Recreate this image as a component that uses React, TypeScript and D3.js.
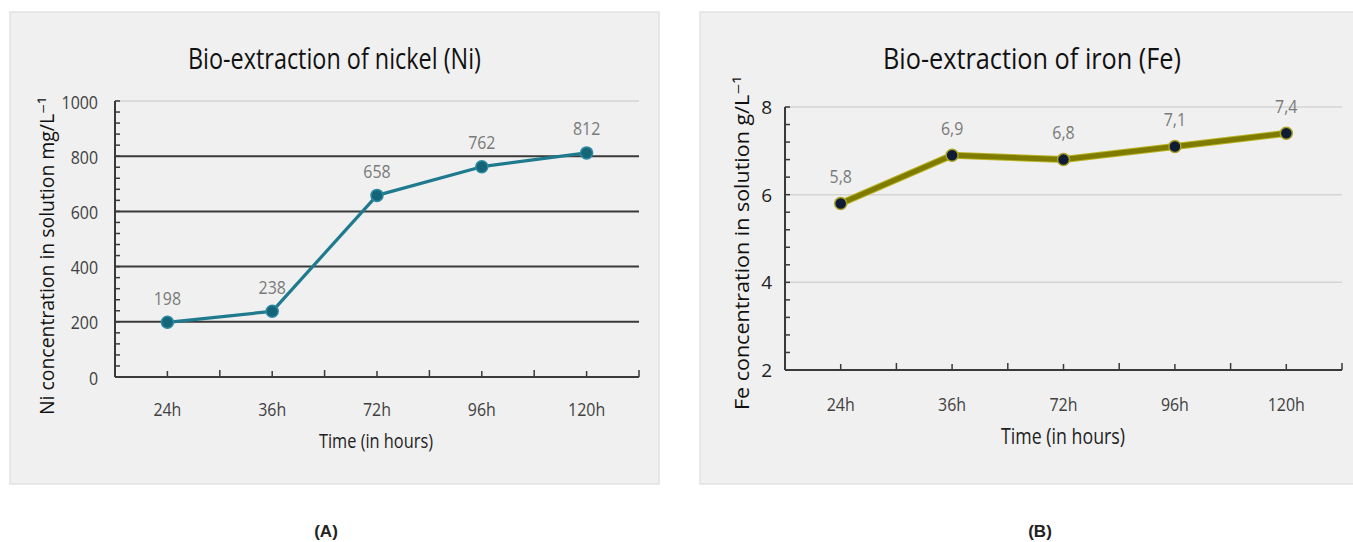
import React from "react";
import * as d3 from "d3";

const categories = ["24h", "36h", "72h", "96h", "120h"];
const nickelValues = [198, 238, 658, 762, 812];
const ironValues = [5.8, 6.9, 6.8, 7.1, 7.4];
const nickelTicks = [0, 200, 400, 600, 800, 1000];
const ironTicks = [2, 4, 6, 8];
const ironLabels = ["5,8", "6,9", "6,8", "7,1", "7,4"];

const FONT = "'Open Sans', 'DejaVu Sans', sans-serif";

type TProps = {
  x: number;
  y: number;
  size: number;
  fill: string;
  anchor?: "start" | "middle" | "end";
  sx?: number;
  len?: number;
  rotate?: number;
  weight?: string;
  family?: string;
  children: React.ReactNode;
};

function T({ x, y, size, fill, anchor = "middle", sx = 0.84, len, rotate = 0, weight, family = FONT, children }: TProps) {
  const tf = len
    ? `translate(${x},${y}) rotate(${rotate})`
    : `translate(${x},${y}) rotate(${rotate}) scale(${sx},1)`;
  return (
    <text
      transform={tf}
      textAnchor={anchor}
      dominantBaseline="central"
      fontFamily={family}
      fontSize={size}
      fontWeight={weight}
      fill={fill}
      textLength={len}
      lengthAdjust={len ? "spacingAndGlyphs" : undefined}
    >
      {children}
    </text>
  );
}

type PanelProps = {
  box: { x: number; y: number; w: number; h: number };
  plot: { l: number; r: number; t: number; b: number };
  domain: [number, number];
  ticks: number[];
  values: number[];
  labels: string[];
  title: string;
  yTitle: string;
  variant: "A" | "B";
};

function Panel(p: PanelProps) {
  const x = d3.scaleBand<string>().domain(categories).range([p.plot.l, p.plot.r]).padding(0);
  const y = d3.scaleLinear().domain(p.domain).range([p.plot.b, p.plot.t]);
  const cx = (c: string) => (x(c) as number) + x.bandwidth() / 2;
  const line = d3
    .line<number>()
    .x((_, i) => cx(categories[i]))
    .y((v) => y(v));
  const step = p.ticks[1] - p.ticks[0];
  const minor = d3.range(p.domain[0], p.domain[1] + 1e-9, step / 5);
  const boundaries = categories.map((c) => x(c) as number).concat([p.plot.r]);
  const isA = p.variant === "A";
  return (
    <g>
      <rect x={p.box.x} y={p.box.y} width={p.box.w} height={p.box.h} fill="#f0f0f0" stroke="#e2e2e2" strokeWidth={1.5} />
      <T x={isA ? 334.5 : 1032} y={57} size={30} fill="#111" len={isA ? 293 : 298}>
        {p.title}
      </T>
      {/* gridlines */}
      {p.ticks.slice(1).map((t) => {
        const dark = isA && t !== p.domain[1];
        return (
          <line key={"g" + t} x1={p.plot.l} x2={p.plot.r} y1={y(t)} y2={y(t)} stroke={dark ? "#3a3a3a" : "#d4d4d4"} strokeWidth={dark ? 2 : 1.5} />
        );
      })}
      {/* y axis */}
      <line x1={p.plot.l} x2={p.plot.l} y1={p.plot.t} y2={p.plot.b} stroke="#3a3a3a" strokeWidth={2} />
      {minor.map((m, i) => (
        <line key={"m" + i} x1={p.plot.l} x2={p.plot.l + 5} y1={y(m)} y2={y(m)} stroke="#3a3a3a" strokeWidth={1.5} />
      ))}
      {/* x axis */}
      <line x1={p.plot.l} x2={p.plot.r} y1={p.plot.b} y2={p.plot.b} stroke="#3a3a3a" strokeWidth={2} />
      {boundaries.map((b, i) => (
        <line key={"b" + i} x1={b} x2={b} y1={p.plot.b} y2={p.plot.b - 7} stroke="#3a3a3a" strokeWidth={1.5} />
      ))}
      {categories.map((c) => (
        <line key={"c" + c} x1={cx(c)} x2={cx(c)} y1={p.plot.b} y2={p.plot.b - 6} stroke="#3a3a3a" strokeWidth={1.5} />
      ))}
      {/* tick labels */}
      {p.ticks.map((t) =>
        isA ? (
          <T key={"t" + t} x={p.plot.l - 17} y={y(t)} anchor="end" size={19} fill="#404040">
            {t}
          </T>
        ) : (
          <T key={"t" + t} x={p.plot.l - 13} y={y(t)} anchor="end" size={19} sx={1} fill="#222">
            {t}
          </T>
        )
      )}
      {categories.map((c) => (
        <T key={"x" + c} x={cx(c)} y={isA ? 408 : 403} size={19} fill="#404040">
          {c}
        </T>
      ))}
      <T x={isA ? 376 : 1063} y={isA ? 440 : 436} size={isA ? 20 : 21} fill="#222" len={isA ? 114 : 124}>
        Time (in hours)
      </T>
      <T x={isA ? 46 : 741} y={isA ? 256 : 243} rotate={-90} size={20} fill="#111" len={isA ? 318 : 334}>
        {p.yTitle}
      </T>
      {/* series */}
      {isA ? (
        <path d={line(p.values) as string} fill="none" stroke="#1f7a8e" strokeWidth={3.2} strokeLinejoin="round" />
      ) : (
        <g>
          <path d={line(p.values) as string} fill="none" stroke="#b8b320" strokeWidth={7} strokeLinejoin="round" />
          <path d={line(p.values) as string} fill="none" stroke="#7e7b00" strokeWidth={5} strokeLinejoin="round" />
        </g>
      )}
      {p.values.map((v, i) => (
        <circle
          key={"p" + i}
          cx={cx(categories[i])}
          cy={y(v)}
          r={6}
          fill={isA ? "#156579" : "#101c35"}
          stroke={isA ? "#2c8aa0" : "#a8a226"}
          strokeWidth={1.5}
        />
      ))}
      {p.values.map((v, i) => (
        <T key={"l" + i} x={cx(categories[i])} y={y(v) - (isA ? 25 : 28)} size={19} fill="#7a7a7a">
          {p.labels[i]}
        </T>
      ))}
    </g>
  );
}

export default function App() {
  return (
    <svg width={1353} height={542} style={{ position: "absolute", left: 0, top: 0, background: "#fff" }}>
      <rect x={0} y={0} width={1353} height={542} fill="#fff" />
      <Panel
        variant="A"
        box={{ x: 10, y: 12, w: 649, h: 472 }}
        plot={{ l: 115, r: 639, t: 101, b: 377 }}
        domain={[0, 1000]}
        ticks={nickelTicks}
        values={nickelValues}
        labels={nickelValues.map(String)}
        title="Bio-extraction of nickel (Ni)"
        yTitle="Ni concentration in solution mg/L⁻¹"
      />
      <Panel
        variant="B"
        box={{ x: 700, y: 12, w: 665, h: 472 }}
        plot={{ l: 785, r: 1342, t: 107, b: 370 }}
        domain={[2, 8]}
        ticks={ironTicks}
        values={ironValues}
        labels={ironLabels}
        title="Bio-extraction of iron (Fe)"
        yTitle="Fe concentration in solution g/L⁻¹"
      />
      <T x={326} y={531} size={17} sx={1} weight="bold" family="'Liberation Sans', Arial, sans-serif" fill="#222">
        (A)
      </T>
      <T x={1040} y={531} size={17} sx={1} weight="bold" family="'Liberation Sans', Arial, sans-serif" fill="#222">
        (B)
      </T>
    </svg>
  );
}
